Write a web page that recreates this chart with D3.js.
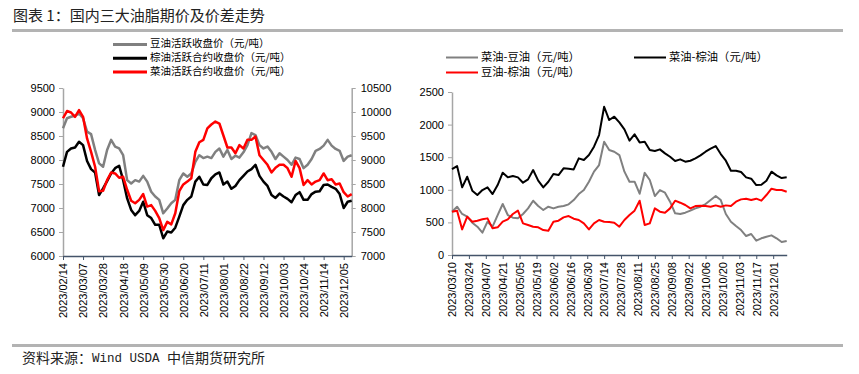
<!DOCTYPE html>
<html>
<head>
  <meta charset="UTF-8" />
  <title>国内三大油脂期价及价差走势</title>
  <style>
    body { margin: 0; background: #fff; }
    svg { display: block; font-family: "Liberation Sans", Arial, sans-serif; }
    .cjk { font-family: "Noto Sans CJK SC", sans-serif; }
  </style>
</head>
<body>
  <svg width="859" height="374"></svg>

<script src="https://cdn.jsdelivr.net/npm/d3@7"></script>
<script>
  // left chart: futures prices, one value every 3 trading days from 2023/02/14
  const leftStep = 3;
  const leftTickEvery = 15;
  const leftDates = ["2023/02/14", "2023/03/07", "2023/03/28", "2023/04/18", "2023/05/09",
    "2023/05/30", "2023/06/20", "2023/07/11", "2023/08/01", "2023/08/22", "2023/09/12",
    "2023/10/03", "2023/10/24", "2023/11/14", "2023/12/05"];
  const soyPrice = [8660, 8870, 8900, 8920, 8970, 8870, 8590, 8540, 8210, 7930,
    7860, 8210, 8420, 8280, 8240, 8100, 7580, 7510, 7580, 7550,
    7670, 7550, 7340, 7240, 7170, 6890, 6990, 7100, 7170, 7580,
    7720, 7650, 7720, 7960, 8100, 8040, 8070, 8040, 8170, 8240,
    8070, 8210, 8020, 8090, 8050, 8160, 8310, 8560, 8520, 8310,
    8240, 8280, 8170, 8020, 8140, 8070, 8000, 7900, 8050, 8020,
    7830, 7900, 8020, 8190, 8230, 8300, 8420, 8300, 8230, 8190,
    7980, 8070, 8100];
  const palmPrice = [7860, 8170, 8240, 8260, 8380, 8310, 7980, 7810, 7740, 7270,
    7410, 7560, 7720, 7830, 7880, 7580, 7200, 6960, 6850, 6940,
    7130, 6850, 6790, 6650, 6650, 6370, 6510, 6490, 6590, 6820,
    7060, 7170, 7240, 7550, 7650, 7490, 7480, 7620, 7700, 7740,
    7490, 7550, 7400, 7460, 7580, 7670, 7760, 7810, 7900, 7670,
    7550, 7460, 7270, 7210, 7300, 7240, 7190, 7120, 7270, 7330,
    7170, 7170, 7290, 7340, 7350, 7480, 7490, 7440, 7400, 7290,
    7000, 7130, 7150];
  const rapePrice = [9870, 10020, 9990, 9900, 10040, 9900, 9450, 9170, 8860, 8350,
    8360, 8580, 8740, 8720, 8630, 8650, 8380, 8150, 8100, 8170,
    8290, 8030, 8060, 7940, 7790, 7540, 7710, 7660, 7890, 8350,
    8490, 8550, 8620, 9170, 9370, 9420, 9660, 9740, 9800, 9760,
    9510, 9260, 9260, 9140, 9310, 9240, 9420, 9420, 9490, 9100,
    9000, 8900, 8740, 8840, 8900, 8900, 8830, 8650, 8980, 8830,
    8480, 8580, 8490, 8550, 8580, 8720, 8580, 8600, 8490, 8510,
    8330, 8240, 8290];

  // right chart: spreads, one value every 3 trading days from 2023/03/10
  const rightStep = 3;
  const rightTickEvery = 10;
  const rightDates = ["2023/03/10", "2023/03/24", "2023/04/07", "2023/04/21", "2023/05/05",
    "2023/05/19", "2023/06/02", "2023/06/16", "2023/06/30", "2023/07/14", "2023/07/28",
    "2023/08/11", "2023/08/25", "2023/09/08", "2023/09/22", "2023/10/06", "2023/10/20",
    "2023/11/03", "2023/11/17", "2023/12/01"];
  const rapeSoySpread = [664, 741, 629, 588, 496, 434, 342, 511, 434, 613,
    782, 613, 572, 562, 629, 715, 833, 751, 690, 741,
    715, 741, 751, 777, 843, 935, 996, 1124, 1278, 1380,
    1737, 1610, 1584, 1533, 1278, 1124, 1124, 940, 1260, 1150,
    904, 996, 956, 818, 639, 629, 649, 680, 715, 741,
    782, 843, 904, 843, 629, 511, 445, 383, 291, 322,
    220, 256, 281, 301, 256, 199, 215];
  const rapePalmSpread = [1318, 1364, 1037, 1200, 986, 920, 996, 1037, 935, 1073,
    1262, 1191, 1211, 1191, 1109, 1160, 1303, 1140, 1037, 1124,
    1242, 1226, 1329, 1323, 1313, 1482, 1456, 1533, 1661, 1840,
    2274, 2070, 2121, 2034, 1926, 1753, 1850, 1727, 1737, 1610,
    1594, 1620, 1559, 1507, 1441, 1467, 1431, 1446, 1482, 1528,
    1584, 1630, 1671, 1548, 1446, 1293, 1293, 1272, 1191, 1170,
    1073, 1078, 1140, 1278, 1221, 1180, 1191];
  const soyPalmSpread = [664, 680, 393, 588, 511, 526, 547, 562, 409, 424,
    511, 547, 629, 680, 485, 460, 434, 424, 383, 373,
    511, 526, 577, 598, 557, 537, 485, 393, 485, 537,
    511, 506, 496, 434, 537, 613, 680, 833, 460, 485,
    715, 664, 649, 715, 833, 802, 767, 715, 751, 756,
    751, 741, 761, 741, 761, 751, 818, 853, 864, 843,
    864, 833, 920, 1017, 996, 996, 971];

  const svg = d3.select("svg");
  const axisGray = "#a6a6a6";
  const xAxisColor = "#44546a";
  const plain = d3.format("d");

  // header and footer
  svg.append("text").attr("class", "cjk")
    .attr("x", 13).attr("y", 17).attr("dominant-baseline", "middle")
    .attr("font-size", "15px").attr("fill", "#222")
    .text("图表 1：国内三大油脂期价及价差走势");
  svg.append("rect").attr("x", 12).attr("y", 29).attr("width", 831).attr("height", 3).attr("fill", "#b3b3b3");
  svg.append("rect").attr("x", 12).attr("y", 344).attr("width", 831).attr("height", 3).attr("fill", "#b3b3b3");
  const src = svg.append("text").attr("class", "cjk")
    .attr("x", 22).attr("y", 359).attr("dominant-baseline", "middle")
    .attr("font-size", "14px").attr("fill", "#222");
  src.append("tspan").text("资料来源：");
  src.append("tspan").attr("font-family", "'Liberation Mono', monospace").attr("font-size", "12.5px")
    .text("Wind USDA ");
  src.append("tspan").text("中信期货研究所");

  function styleAxis(g, color) {
    g.select(".domain").attr("stroke", color).attr("stroke-width", 1.5);
    g.selectAll(".tick line").attr("stroke", color);
    g.selectAll("text").attr("fill", "#000").attr("font-size", "11px");
  }

  function dateAxis(g, scale, ticks, labels, y) {
    g.attr("transform", `translate(0,${y})`)
      .call(d3.axisBottom(scale).tickValues(ticks).tickFormat((d, i) => labels[i])
        .tickSize(4).tickSizeOuter(0));
    styleAxis(g, xAxisColor);
    g.selectAll("text")
      .attr("transform", "rotate(-90)")
      .attr("x", -7).attr("y", 0).attr("dy", "0.35em")
      .style("text-anchor", "end");
  }

  function legendItem(x, y, len, color, width, label, size) {
    svg.append("line").attr("x1", x).attr("x2", x + len).attr("y1", y).attr("y2", y)
      .attr("stroke", color).attr("stroke-width", width);
    svg.append("text").attr("class", "cjk")
      .attr("x", x + len + 3).attr("y", y).attr("dominant-baseline", "middle")
      .attr("font-size", size).attr("fill", "#000").text(label);
  }

  // ---------- left chart ----------
  const xL = d3.scaleLinear().domain([0, 216]).range([63, 351.7]);
  const yL = d3.scaleLinear().domain([6000, 9500]).range([256, 88]);
  const yR = d3.scaleLinear().domain([7000, 10500]).range([256, 88]);

  const gLy = svg.append("g").attr("transform", "translate(63,0)")
    .call(d3.axisLeft(yL).tickValues(d3.range(6000, 9501, 500)).tickFormat(plain)
      .tickSize(4).tickPadding(4).tickSizeOuter(0));
  styleAxis(gLy, axisGray);
  const gRy = svg.append("g").attr("transform", "translate(351.7,0)")
    .call(d3.axisRight(yR).tickValues(d3.range(7000, 10501, 500)).tickFormat(plain)
      .tickSize(4).tickPadding(5).tickSizeOuter(0));
  styleAxis(gRy, axisGray);
  dateAxis(svg.append("g"), xL, d3.range(0, 211, leftTickEvery), leftDates, 256);

  const lineL = d3.line().x((d, i) => xL(i * leftStep)).y(d => yL(d));
  const lineR = d3.line().x((d, i) => xL(i * leftStep)).y(d => yR(d));
  svg.append("path").datum(soyPrice).attr("d", lineL)
    .attr("fill", "none").attr("stroke", "#808080").attr("stroke-width", 2.5).attr("stroke-linejoin", "round");
  svg.append("path").datum(palmPrice).attr("d", lineL)
    .attr("fill", "none").attr("stroke", "#000").attr("stroke-width", 2.5).attr("stroke-linejoin", "round");
  svg.append("path").datum(rapePrice).attr("d", lineR)
    .attr("fill", "none").attr("stroke", "#ff0000").attr("stroke-width", 2.5).attr("stroke-linejoin", "round");

  legendItem(113, 44.6, 34, "#808080", 3, "豆油活跃收盘价（元/吨）", "10.5px");
  legendItem(113, 58.3, 34, "#000", 3, "棕油活跃合约收盘价（元/吨）", "10.5px");
  legendItem(113, 72, 34, "#ff0000", 3, "菜油活跃合约收盘价（元/吨）", "10.5px");

  // ---------- right chart ----------
  const x2 = d3.scaleLinear().domain([0, 198]).range([452, 786.7]);
  const y2 = d3.scaleLinear().domain([0, 2500]).range([255, 92]);

  const g2y = svg.append("g").attr("transform", "translate(452,0)")
    .call(d3.axisLeft(y2).tickValues(d3.range(0, 2501, 500)).tickFormat(plain)
      .tickSize(4).tickPadding(4).tickSizeOuter(0));
  styleAxis(g2y, axisGray);
  dateAxis(svg.append("g"), x2, d3.range(0, 191, rightTickEvery), rightDates, 255);

  const line2 = d3.line().x((d, i) => x2(i * rightStep)).y(d => y2(d));
  svg.append("path").datum(rapeSoySpread).attr("d", line2)
    .attr("fill", "none").attr("stroke", "#808080").attr("stroke-width", 2).attr("stroke-linejoin", "round");
  svg.append("path").datum(rapePalmSpread).attr("d", line2)
    .attr("fill", "none").attr("stroke", "#000").attr("stroke-width", 2).attr("stroke-linejoin", "round");
  svg.append("path").datum(soyPalmSpread).attr("d", line2)
    .attr("fill", "none").attr("stroke", "#ff0000").attr("stroke-width", 2).attr("stroke-linejoin", "round");

  legendItem(446, 57.5, 32, "#808080", 2, "菜油-豆油（元/吨）", "11.3px");
  legendItem(634, 57.5, 32, "#000", 2, "菜油-棕油（元/吨）", "11.3px");
  legendItem(446, 72.5, 32, "#ff0000", 2, "豆油-棕油（元/吨）", "11.3px");
</script>
</body>
</html>
